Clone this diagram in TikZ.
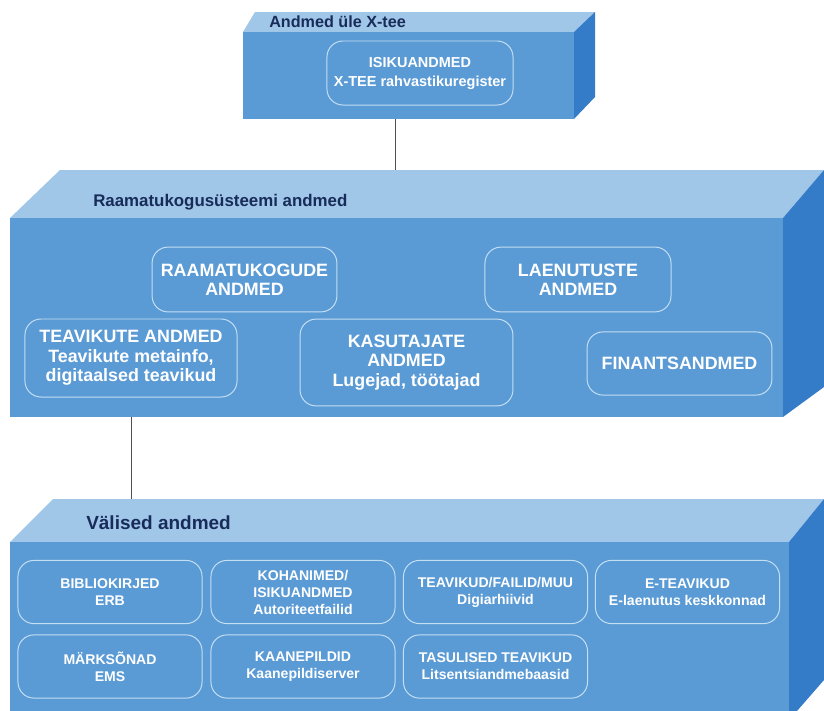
\documentclass[tikz,border=0pt]{standalone}
\usepackage{fontspec}
\setmainfont{Liberation Sans}
\usepackage{xcolor}

\definecolor{facefront}{RGB}{91,155,213}
\definecolor{facetop}{RGB}{160,198,232}
\definecolor{faceside}{RGB}{52,124,200}
\definecolor{boxline}{RGB}{196,222,244}
\definecolor{titleblue}{RGB}{24,44,90}
\definecolor{linkgray}{RGB}{80,80,80}

\newcommand\ftitle[1]{\fontsize{#1}{#1}\selectfont\bfseries}
\newcommand\fbig{\fontsize{12.7}{13.7}\selectfont\bfseries}
\newcommand\fsmall{\fontsize{10}{12.1}\selectfont\bfseries}

\begin{document}
\begin{tikzpicture}[x=0.025cm,y=-0.025cm,
	inner/.style={draw=boxline, line width=0.7pt, rounded corners=0.4cm,
		align=center, text=white, inner sep=0pt},
	bigbox/.style={inner, font=\fbig},
	smallbox/.style={inner, font=\fsmall, minimum width=4.6cm, minimum height=1.58cm},
	title/.style={anchor=west, text=titleblue, inner sep=0pt},
	link/.style={draw=linkgray, line width=0.7pt}]
	\useasboundingbox (0,0) rectangle (824,711);
	
	%%% box 1: X-tee
	\fill[facetop] (243,32) -- (255,12) -- (595,12) -- (574,32) -- cycle;
	\fill[faceside] (574,32) -- (595,12) -- (595,97) -- (574,119) -- cycle;
	\fill[facefront] (243,32) rectangle (574,119);
	%%% box 2: raamatukogususteem
	\fill[facetop] (10,218) -- (60,170) -- (824,170) -- (783,218) -- cycle;
	\fill[faceside] (783,218) -- (824,170) -- (824,387) -- (783,417) -- cycle;
	\fill[facefront] (10,218) rectangle (783,417);
	%%% box 3: valised andmed
	\fill[facetop] (10,542) -- (53,499) -- (824,499) -- (789,542) -- cycle;
	\fill[faceside] (789,542) -- (824,499) -- (824,680) -- (797,711) -- (789,711) -- cycle;
	\fill[facefront] (10,542) rectangle (789,711);
	
	\node[title, font=\ftitle{11.5}] (t1) at (269,22) {Andmed üle X-tee};
	\node[title, font=\ftitle{12}] (t2) at (93,202) {Raamatukogusüsteemi andmed};
	\node[title, font=\ftitle{13.5}] (t3) at (86,523) {Välised andmed};
	
	\node[inner, font=\fontsize{10.3}{13.5}\selectfont\bfseries,
		minimum width=4.65cm, minimum height=1.6cm] (isik) at (420,73)
		{ISIKUANDMED\\X-TEE rahvastikuregister};
	
	\node[bigbox, minimum width=4.62cm, minimum height=1.62cm] (raam) at (244.5,279.5)
		{RAAMATUKOGUDE\\ANDMED};
	\node[bigbox, minimum width=4.65cm, minimum height=1.62cm] (laen) at (578,279.5)
		{LAENUTUSTE\\ANDMED};
	\node[bigbox, minimum width=5.3cm, minimum height=1.95cm] (teav) at (131,358)
		{TEAVIKUTE ANDMED\\Teavikute metainfo,\\digitaalsed teavikud};
	\node[bigbox, minimum width=5.32cm, minimum height=2.17cm] (kasu) at (406.5,362.5)
		{KASUTAJATE\\ANDMED\\Lugejad, töötajad};
	\node[bigbox, minimum width=4.62cm, minimum height=1.58cm] (fin) at (679.5,363.5)
		{FINANTSANDMED};
	
	\node[smallbox] (bib) at (110,592) {BIBLIOKIRJED\\ERB};
	\node[smallbox] (koh) at (303,592) {KOHANIMED/\\ISIKUANDMED\\Autoriteetfailid};
	\node[smallbox] (fail) at (495.5,592) {TEAVIKUD/FAILID/MUU\\Digiarhiivid};
	\node[smallbox] (etea) at (687.5,592) {E-TEAVIKUD\\E-laenutus keskkonnad};
	\node[smallbox] (mark) at (110,666.5) {MÄRKSÕNAD\\EMS};
	\node[smallbox] (kaan) at (303,666.5) {KAANEPILDID\\Kaanepildiserver};
	\node[smallbox] (tasu) at (495.5,666.5) {TASULISED TEAVIKUD\\Litsentsiandmebaasid};
	
	\coordinate (b1bot) at (395,119);
	\coordinate (b2top) at (395,170);
	\coordinate (b2bot) at (0,417);
	\coordinate (b3top) at (0,499);
	\draw[link] (b1bot) -- (b2top);
	\draw[link] (teav.south |- b2bot) -- (teav.south |- b3top);
\end{tikzpicture}
\end{document}
